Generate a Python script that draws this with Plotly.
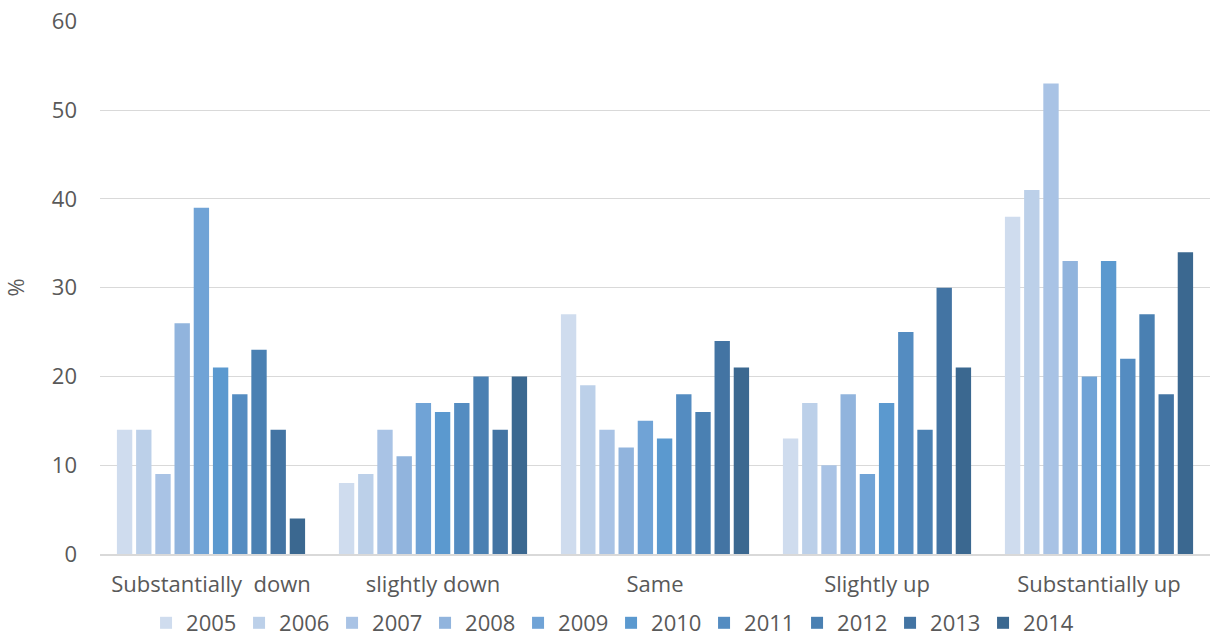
import plotly.graph_objects as go

categories = ["Substantially\u00a0 down", "slightly down", "Same", "Slightly up", "Substantially up"]
years = ["2005", "2006", "2007", "2008", "2009", "2010", "2011", "2012", "2013", "2014"]

v2005 = [14, 8, 27, 13, 38]
v2006 = [14, 9, 19, 17, 41]
v2007 = [9, 14, 14, 10, 53]
v2008 = [26, 11, 12, 18, 33]
v2009 = [39, 17, 15, 9, 20]
v2010 = [21, 16, 13, 17, 33]
v2011 = [18, 17, 18, 25, 22]
v2012 = [23, 20, 16, 14, 27]
v2013 = [14, 14, 24, 30, 18]
v2014 = [4, 20, 21, 21, 34]

series = [v2005, v2006, v2007, v2008, v2009, v2010, v2011, v2012, v2013, v2014]
colors = ["#CFDCEE", "#BCD0E9", "#A9C3E5", "#91B4DD", "#70A3D6",
          "#5B99CF", "#548CC1", "#4A80B2", "#4374A3", "#3B6890"]

fig = go.Figure()
for name, vals, col in zip(years, series, colors):
    fig.add_trace(go.Bar(x=categories, y=vals, name=name, marker_color=col,
                         marker_line_width=0))

font_family = "Open Sans, Liberation Sans, Arial, sans-serif"
txt = "#595959"
fs = 22
fig.update_layout(
    width=1210, height=639,
    margin=dict(l=100, r=0, t=21, b=85, autoexpand=False),
    paper_bgcolor="white", plot_bgcolor="white",
    barmode="group", bargap=0.135, bargroupgap=0.2,
    font=dict(family=font_family, size=fs, color=txt),
    xaxis=dict(showgrid=False, showline=True, linecolor="#D9D9D9", linewidth=1.5,
               ticks="", ticklabelstandoff=10, tickfont=dict(size=fs, color=txt)),
    yaxis=dict(range=[0, 60.05], dtick=10, showgrid=True, gridcolor="#D9D9D9",
               gridwidth=1, zeroline=False, showline=False, ticks="",
               ticklabelstandoff=22,
               tickfont=dict(size=fs, color=txt),
               title=dict(text="%", font=dict(size=fs, color=txt), standoff=26)),
    legend=dict(orientation="h", xref="container", x=0.505, xanchor="center",
                yref="container", y=(639 - 623) / 639, yanchor="middle",
                font=dict(size=fs, color=txt), bgcolor="rgba(0,0,0,0)",
                entrywidth=48, itemwidth=30, tracegroupgap=0),
    showlegend=True,
)

fig.write_html("out.html")
